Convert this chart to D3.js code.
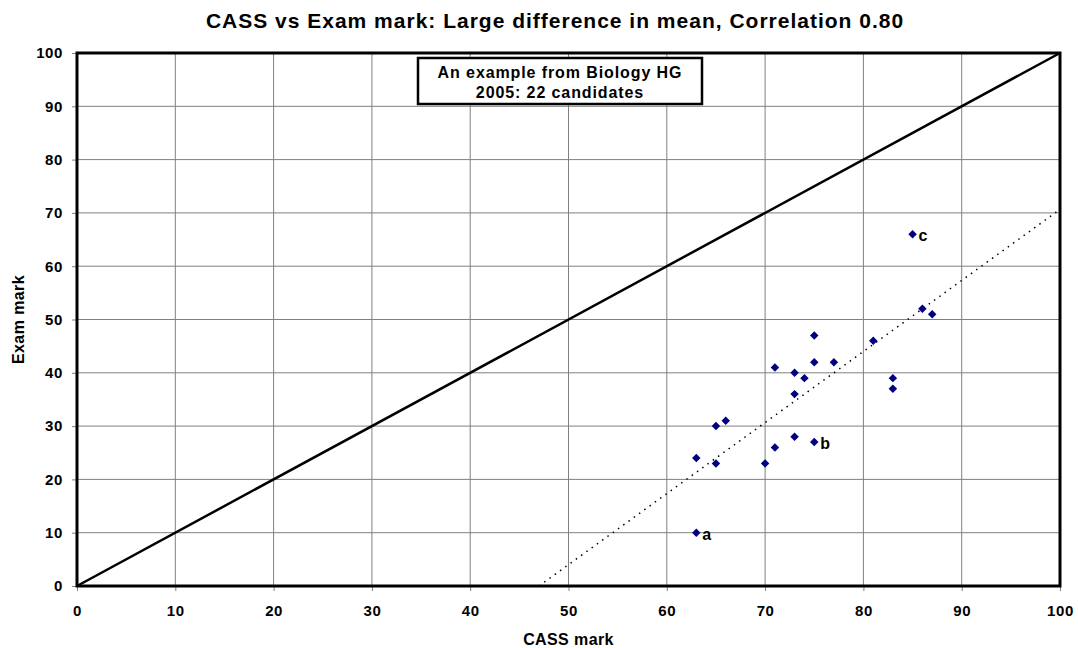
<!DOCTYPE html>
<html>
<head>
<meta charset="utf-8">
<script src="https://cdn.jsdelivr.net/npm/d3@7"></script>
<style>
  html, body { margin: 0; padding: 0; background: #fff; }
  svg { display: block; font-family: Arial, "Liberation Sans", sans-serif; }
</style>
</head>
<body>
<svg id="chart" width="1078" height="648"></svg>
<script>
const titleText = "CASS vs Exam mark: Large difference in mean, Correlation 0.80";
const xLabel = "CASS mark";
const yLabel = "Exam mark";
const noteLines = ["An example from Biology HG", "2005: 22 candidates"];

const cassMarks = [75, 81, 75, 77, 71, 73, 74, 73, 66, 65, 73, 75, 71, 63, 65, 70, 63, 85, 86, 87, 83, 83];
const examMarks = [47, 46, 42, 42, 41, 40, 39, 36, 31, 30, 28, 27, 26, 24, 23, 23, 10, 66, 52, 51, 39, 37];

const pointLabels = [
  { text: "a", cass: 63, exam: 10 },
  { text: "b", cass: 75, exam: 27 },
  { text: "c", cass: 85, exam: 66 }
];

const xTicks = [0, 10, 20, 30, 40, 50, 60, 70, 80, 90, 100];
const yTicks = [0, 10, 20, 30, 40, 50, 60, 70, 80, 90, 100];
const equalityLine = [[0, 0], [100, 100]];

const svg = d3.select("#chart");
const L = 77, R = 1060, T = 53, B = 586;

const x = d3.scaleLinear().domain([0, 100]).range([L, R]);
const y = d3.scaleLinear().domain([0, 100]).range([B, T]);

// gridlines
svg.append("g").selectAll("line.vg").data(xTicks.slice(1, -1)).join("line")
  .attr("x1", d => x(d)).attr("x2", d => x(d)).attr("y1", T).attr("y2", B)
  .attr("stroke", "#808080").attr("stroke-width", 1);
svg.append("g").selectAll("line.hg").data(yTicks.slice(1, -1)).join("line")
  .attr("y1", d => y(d)).attr("y2", d => y(d)).attr("x1", L).attr("x2", R)
  .attr("stroke", "#808080").attr("stroke-width", 1);

// axes
const xAxis = svg.append("g").attr("transform", `translate(0,${B})`)
  .call(d3.axisBottom(x).tickValues(xTicks).tickSize(5).tickPadding(14).tickFormat(d3.format("d")));
const yAxis = svg.append("g").attr("transform", `translate(${L},0)`)
  .call(d3.axisLeft(y).tickValues(yTicks).tickSize(5).tickPadding(9).tickFormat(d3.format("d")));
[xAxis, yAxis].forEach(a => {
  a.select(".domain").remove();
  a.selectAll(".tick line").attr("stroke", "#808080");
  a.selectAll(".tick text").attr("fill", "#000").attr("font-size", 15).attr("font-weight", "bold")
    .attr("letter-spacing", "0.6px")
    .attr("font-family", "Arial, 'Liberation Sans', sans-serif");
});

// frame
svg.append("rect").attr("x", L).attr("y", T).attr("width", R - L).attr("height", B - T)
  .attr("fill", "none").attr("stroke", "#000").attr("stroke-width", 3);

// equality line
svg.append("path").datum(equalityLine)
  .attr("d", d3.line().x(d => x(d[0])).y(d => y(d[1])))
  .attr("fill", "none").attr("stroke", "#000").attr("stroke-width", 2.5);

// regression line computed from data
const mx = d3.mean(cassMarks), my = d3.mean(examMarks);
let sxy = 0, sxx = 0;
cassMarks.forEach((c, i) => { sxy += (c - mx) * (examMarks[i] - my); sxx += (c - mx) * (c - mx); });
const slope = sxy / sxx, intercept = my - slope * mx;
const xStart = Math.max(0, -intercept / slope);
const trend = [[xStart, slope * xStart + intercept], [100, slope * 100 + intercept]];
svg.append("path").datum(trend)
  .attr("d", d3.line().x(d => x(d[0])).y(d => y(d[1])))
  .attr("fill", "none").attr("stroke", "#000").attr("stroke-width", 1.5)
  .attr("stroke-dasharray", "1.5,5");

// points
const diamond = d3.symbol().type(d3.symbolSquare).size(36);
svg.append("g").selectAll("path").data(cassMarks.map((c, i) => [c, examMarks[i]])).join("path")
  .attr("d", diamond)
  .attr("transform", d => `translate(${x(d[0])},${y(d[1])}) rotate(45)`)
  .attr("fill", "#000080");

// point labels
svg.append("g").selectAll("text").data(pointLabels).join("text")
  .attr("x", d => x(d.cass) + 6).attr("y", d => y(d.exam) + 7)
  .attr("font-size", 16).attr("font-weight", "bold").text(d => d.text);

// note box
const boxX0 = 418, boxX1 = 702, boxY0 = 58, boxY1 = 104;
svg.append("rect").attr("x", boxX0).attr("y", boxY0).attr("width", boxX1 - boxX0).attr("height", boxY1 - boxY0)
  .attr("fill", "#fff").attr("stroke", "#000").attr("stroke-width", 2.5);
svg.append("g").selectAll("text").data(noteLines).join("text")
  .attr("x", (boxX0 + boxX1) / 2).attr("y", (d, i) => 77.5 + i * 20.5)
  .attr("text-anchor", "middle").attr("font-size", 16).attr("font-weight", "bold")
  .attr("letter-spacing", "0.9px").text(d => d);

// title
svg.append("text").attr("x", 555).attr("y", 28).attr("text-anchor", "middle")
  .attr("font-size", 21).attr("font-weight", "bold").attr("letter-spacing", "1px").text(titleText);

// axis titles
svg.append("text").attr("x", x(50)).attr("y", 645).attr("text-anchor", "middle")
  .attr("font-size", 16).attr("font-weight", "bold").attr("letter-spacing", "0.4px").text(xLabel);
svg.append("text").attr("transform", `translate(24,${(T + B) / 2}) rotate(-90)`)
  .attr("text-anchor", "middle").attr("font-size", 16).attr("font-weight", "bold")
  .attr("letter-spacing", "0.4px").text(yLabel);
</script>
</body>
</html>
